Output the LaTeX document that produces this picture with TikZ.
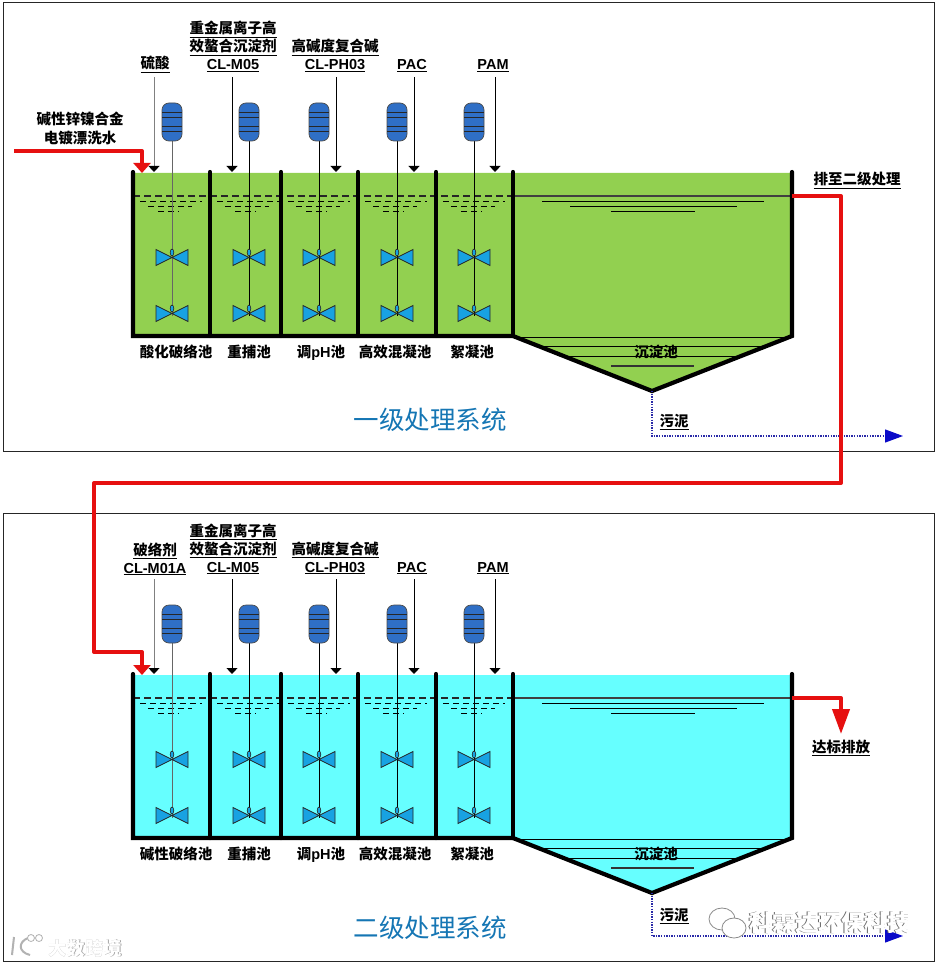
\documentclass[tikz,border=0pt]{standalone}
\usepackage{fontspec}
\setmainfont{Noto Sans CJK SC}
\newfontfamily\latf{Liberation Sans}
\usetikzlibrary{arrows.meta}
\definecolor{grn}{HTML}{92D050}
\definecolor{cyn}{HTML}{66FFFF}
\definecolor{redl}{HTML}{E61010}
\definecolor{capsule}{HTML}{2F6FC6}
\definecolor{blade}{HTML}{18A2E2}
\definecolor{titleblue}{HTML}{1576B4}
\definecolor{dotblue}{HTML}{2A2AA8}
\definecolor{tipblue}{HTML}{0A0AC8}
\tikzset{
  frame/.style={draw=black!85,line width=0.9pt},
  wall/.style={line width=4.2pt,line cap=round,line join=miter},
  feed/.style={line width=1pt,-{Triangle[length=6pt,width=11pt,color=black,fill=black]}},
  redline/.style={draw=redl,line width=4pt,line join=round},
  redarrow/.style={redline,-{Triangle[length=10pt,width=17pt]}},
  bigarrow/.style={redline,-{Triangle[length=25pt,width=17pt]}},
  sludge/.style={draw=dotblue,line width=1.2pt,dash pattern=on 1.4pt off 1.2pt,-{Triangle[length=18pt,width=13pt,color=tipblue,fill=tipblue]}},
  lab/.style={anchor=base,inner sep=0pt,font=\fontsize{14.5}{17}\selectfont\bfseries},
  title/.style={anchor=center,inner sep=0pt,text=titleblue,font=\fontsize{25.5}{29}\selectfont},
  wmark/.style={anchor=center,inner sep=0pt,font=\fontsize{23}{26}\selectfont\bfseries},
  wmarksm/.style={anchor=center,inner sep=0pt,font=\fontsize{18.5}{21}\selectfont\bfseries},
}
\newcommand{\ul}[1]{\underline{#1}}
% one mixer column at x=#1, shaft colour #2
\newcommand{\mixer}[2]{%
  \draw[line width=1pt,#2] (#1,140) -- (#1,316);
  \foreach \yy in {257.5,313.5}{
    \draw[fill=blade,draw=black!85,line width=0.7pt,line join=miter]
      (#1-16,\yy-8) -- (#1+16,\yy+8) -- (#1+16,\yy-8) -- (#1-16,\yy+8) -- cycle;
    \draw[fill=blade,draw=black!85,line width=0.6pt] (#1,\yy-5) ellipse (1.8 and 3.5);
  }
  \draw[fill=capsule,draw=black!70,line width=0.7pt,rounded corners=7pt]
    (#1-10,103) rectangle (#1+10,141);
  \foreach \yy in {112,117,126,131}{\draw[line width=0.8pt,black!85] (#1-10,\yy) -- (#1+10,\yy);}
}
\newcommand{\dashes}[1]{%
  \draw[line width=0.9pt,dash pattern=on 6pt off 4pt] (#1+7,201) -- (#1+69,201);
  \draw[line width=0.9pt,dash pattern=on 6pt off 4pt] (#1+15,206) -- (#1+59,206);
  \draw[line width=0.9pt,dash pattern=on 6pt off 4pt] (#1+25,211) -- (#1+46,211);
}
% one stage: #1 fill, #2 first tank label, #3 title, #4 sludge line y, #5 title y, #6 sludge label baseline
\newcommand{\stage}[6]{%
  \fill[#1] (133,173) -- (792,173) -- (792,336) -- (652,391) -- (513,336) -- (133,336) -- cycle;
  \draw[line width=1.2pt,dash pattern=on 7pt off 4pt,black!85] (133,196) -- (513,196);
  \draw[line width=1.1pt,black!75] (513,196) -- (792,196);
  \foreach \xx in {133,210,281,358,436}{\dashes{\xx}}
  \draw[line width=0.9pt] (542,201) -- (764,201) (570,206) -- (737,206) (611,211) -- (695,211);
  \draw[line width=0.9pt] (513,337) -- (792,337) (540,346) -- (765,346) (570,356) -- (737,356);
  \draw[line width=1.1pt,black!80] (611,366) -- (694,366);
  \mixer{172}{black!60}
  \foreach \xx in {249,319,397,474}{\mixer{\xx}{black}}
  \draw[wall] (133,172) -- (133,336) -- (513,336) -- (652,391) -- (792,336) -- (792,172);
  \foreach \xx in {210,281,358,436,513}{\draw[wall] (\xx,172) -- (\xx,336);}
  \node[lab] (t1) at (176,357) {#2};
  \node[lab] (t2) at (249,357) {重捕池};
  \node[lab] (t3) at (321,357) {调{\latf pH}池};
  \node[lab] (t4) at (395,357) {高效混凝池};
  \node[lab] (t5) at (472,357) {絮凝池};
  \node[lab] (t6) at (656,357) {沉淀池};
  \node[title] (ttl) at (430,#5) {#3};
  \node[lab] (sl) at (674,#6) {\ul{污泥}};
  \node[lab] (m1) at (233,34) {\ul{重金属离子高}};
  \node[lab] (m2) at (233,52) {\ul{效螯合沉淀剂}};
  \node[lab] (m3) at (233,70) {\ul{\latf CL-M05}};
  \node[lab] (p1) at (335,52) {\ul{高碱度复合碱}};
  \node[lab] (p2) at (335,70) {\ul{\latf CL-PH03}};
  \node[lab] (pac) at (412,70) {\ul{\latf PAC}};
  \node[lab] (pam) at (493,70) {\ul{\latf PAM}};
  \coordinate (a1) at (154,77); \coordinate (b1) at (154,172);
  \coordinate (a2) at (232,77); \coordinate (b2) at (232,172);
  \coordinate (a3) at (336,77); \coordinate (b3) at (336,172);
  \coordinate (a4) at (414,77); \coordinate (b4) at (414,172);
  \coordinate (a5) at (495,77); \coordinate (b5) at (495,172);
  \draw[feed,draw=black!50] (a1) -- (b1);
  \foreach \i in {2,...,5}{\draw[feed] (a\i) -- (b\i);}
  \coordinate (in) at (142,173);
  \coordinate (out) at (792,196);
  \coordinate (apex) at (652,391);
  \coordinate (se) at (652,#4);
  \coordinate (sx) at (903,#4);
  \draw[sludge] (apex) -- (se) -- (sx);
}
\begin{document}
\begin{tikzpicture}[x=1pt,y=-1pt]
\useasboundingbox (0,0) rectangle (941,965);
\fill[white] (0,0) rectangle (941,965);
\node[frame,minimum width=931pt,minimum height=449pt,inner sep=0pt,anchor=north west] (box1) at (3,2) {};
\node[frame,minimum width=931pt,minimum height=448pt,inner sep=0pt,anchor=north west] (box2) at (3,513) {};
\begin{scope}[name prefix=u-]
  \stage{grn}{酸化破络池}{一级处理系统}{436}{420}{426}
  \node[lab] (acid) at (155,69) {\ul{硫酸}};
  \node[lab] (inlab1) at (80,125) {碱性锌镍合金};
  \node[lab] (inlab2) at (80,144) {电镀漂洗水};
  \node[lab] (tonext) at (857,185) {\ul{排至二级处理}};
  \coordinate (src) at (14,151);
\end{scope}
\begin{scope}[yshift=-502pt,name prefix=l-]
  \stage{cyn}{碱性破络池}{二级处理系统}{434}{426}{418}
  \node[lab] (br1) at (155,53) {\ul{破络剂}};
  \node[lab] (br2) at (155,71) {\ul{\latf CL-M01A}};
  \node[lab] (dis) at (841,250) {\ul{达标排放}};
  \coordinate (end) at (841,232);
\end{scope}
\draw[redarrow] (u-src) -| (u-in);
\draw[redarrow] (u-out) -- (841,196) -- (841,483) -- (94,483) -- (94,652) -- (142,652) -- (l-in);
\draw[bigarrow] (l-out) -| (l-end);
% watermarks
\node[wmark,text=black!60] (w1s) at (829.3,922.6) {科霖达环保科技};
\node[wmark,text=white] (w1) at (830,923) {科霖达环保科技};
\draw[black!45,fill=white,line width=0.8pt] (722,919) ellipse (13 and 11);
\draw[black!45,fill=white,line width=0.8pt] (734,928) ellipse (12 and 10);
\node[wmarksm,text=black!35] (w2s) at (85.7,948.7) {大数跨境};
\node[wmarksm,text=white] (w2) at (85,948) {大数跨境};
\draw[black!30,line width=2pt] (14,937) -- (12,955) (28,938) .. controls (18,942) and (18,952) .. (30,955);
\draw[black!30,fill=white,line width=0.8pt] (31,938) circle (3.5) (39,938) circle (3.5);
\end{tikzpicture}
\end{document}
